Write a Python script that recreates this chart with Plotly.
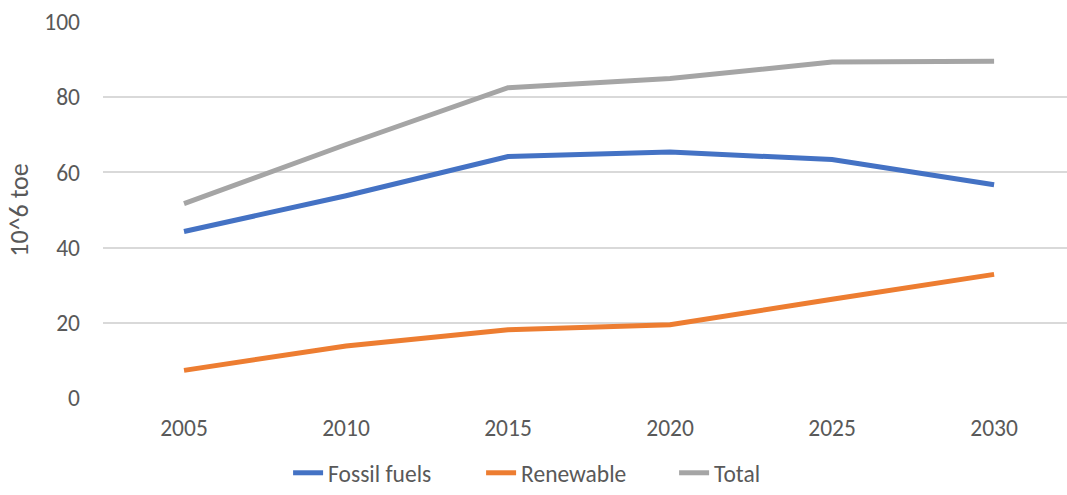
import plotly.graph_objects as go

years = ["2005", "2010", "2015", "2020", "2025", "2030"]
fossil = [44.3, 53.8, 64.2, 65.4, 63.4, 56.7]
renewable = [7.4, 13.9, 18.2, 19.5, 26.3, 32.9]
total = [51.7, 67.4, 82.5, 84.9, 89.3, 89.5]
y_ticks = [0, 20, 40, 60, 80, 100]

series = [("Fossil fuels", fossil, "#4472C4"),
          ("Renewable", renewable, "#ED7D31"),
          ("Total", total, "#A5A5A5")]

fig = go.Figure()
for name, vals, color in series:
    fig.add_trace(go.Scatter(x=years, y=vals, name=name, mode="lines",
                             line=dict(color=color, width=5)))

font_family = "Carlito, Calibri, Open Sans, sans-serif"
fs = 23.5
fig.update_layout(
    width=1067, height=495,
    margin=dict(l=103, r=0, t=21, b=96, autoexpand=False),
    paper_bgcolor="white", plot_bgcolor="white",
    font=dict(family=font_family, size=fs, color="#595959"),
    xaxis=dict(type="category", range=[-0.5, 5.45], showgrid=False,
               showline=False, zeroline=False, ticks="",
               ticklabelstandoff=12, tickfont=dict(size=fs, color="#595959")),
    yaxis=dict(range=[-0.2, 100.2], tickvals=y_ticks, showgrid=True,
               gridcolor="#D9D9D9", gridwidth=1.5, zeroline=False, showline=False,
               ticks="", ticklabelstandoff=22,
               title=dict(text="10^6 toe", standoff=8,
                          font=dict(size=26, color="#595959"))),
    legend=dict(orientation="h", xref="container", x=0.27, xanchor="left",
                yref="container", y=0.0, yanchor="bottom",
                font=dict(size=fs, color="#595959"),
                entrywidth=148, entrywidthmode="pixels", tracegroupgap=0),
    showlegend=True,
)

fig.write_html("out.html", post_script="document.body.style.margin='0';",
               config={"displayModeBar": False})
